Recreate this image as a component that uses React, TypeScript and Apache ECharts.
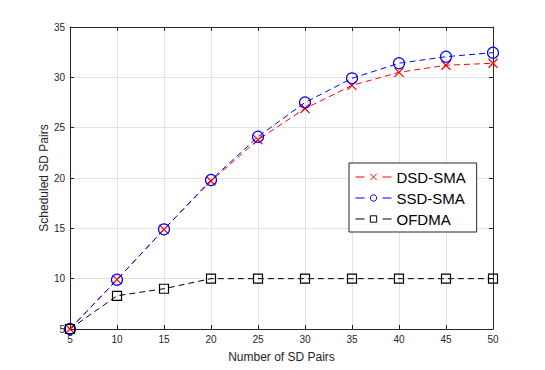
import React, { useEffect, useRef } from "react";
import * as echarts from "echarts";

const xValues = [5, 10, 15, 20, 25, 30, 35, 40, 45, 50];
const dsdSma = [5, 9.9, 14.9, 19.7, 23.8, 26.9, 29.2, 30.5, 31.2, 31.4];
const ssdSma = [5, 9.9, 14.9, 19.8, 24.1, 27.5, 29.9, 31.4, 32.05, 32.45];
const ofdma = [5, 8.3, 9.0, 10, 10, 10, 10, 10, 10, 10];
const seriesNames = ["DSD-SMA", "SSD-SMA", "OFDMA"];

const FONT = "'Liberation Sans', Arial, Helvetica, sans-serif";
const AXIS = "#262626";
const GRID = "#e3e3e3";

const crossPath = "path://M0,0 L10,10 M10,0 L0,10";
const squarePath = "path://M0,0 L10,0 L10,10 L0,10 Z";

function pairs(ys: number[]) {
  return xValues.map((x, i) => [x, ys[i]]);
}

export default function App() {
  const ref = useRef<HTMLDivElement>(null);
  useEffect(() => {
    document.body.style.margin = "0";
    if (!ref.current) return;
    const chart = echarts.init(ref.current, undefined, { renderer: "svg" });
    const mkSeries = (name: string, ys: number[], color: string, symbol: string, size: number) => ({
      name,
      type: "line",
      data: pairs(ys),
      symbol,
      symbolSize: size,
      showAllSymbol: true,
      lineStyle: { color, width: 1, type: [6, 4] },
      itemStyle: { color: "transparent", borderColor: color, borderWidth: 1.2 },
      emphasis: { disabled: true },
    });
    const baseAxis = {
      type: "value" as const,
      interval: 5,
      axisLine: { show: true, lineStyle: { color: AXIS, width: 1 } },
      axisTick: { show: true, inside: true, length: 4, lineStyle: { color: AXIS } },
    };
    chart.setOption({
      animation: false,
      grid: { left: 70, right: 52, top: 27, bottom: 41, containLabel: false },
      xAxis: [
        {
          ...baseAxis,
          min: 5,
          max: 50,
          position: "bottom",
          name: "Number of SD Pairs",
          nameLocation: "middle",
          nameGap: 22,
          nameMoveOverlap: false,
          nameTextStyle: { fontFamily: FONT, fontSize: 12, color: AXIS },
          axisLabel: { fontFamily: FONT, fontSize: 10, color: AXIS, margin: 5 },
          splitLine: { show: true, lineStyle: { color: GRID, width: 1 } },
        },
        {
          ...baseAxis,
          min: 5,
          max: 50,
          position: "top",
          axisLabel: { show: false },
          splitLine: { show: false },
        },
      ],
      yAxis: [
        {
          ...baseAxis,
          min: 5,
          max: 35,
          position: "left",
          name: "Scheduled SD Pairs",
          nameLocation: "middle",
          nameGap: 20,
          nameMoveOverlap: false,
          nameTextStyle: { fontFamily: FONT, fontSize: 12, color: AXIS },
          axisLabel: { fontFamily: FONT, fontSize: 10, color: AXIS, margin: 5 },
          splitLine: { show: true, lineStyle: { color: GRID, width: 1 } },
        },
        {
          ...baseAxis,
          min: 5,
          max: 35,
          position: "right",
          axisLabel: { show: false },
          splitLine: { show: false },
        },
      ],
      legend: {
        orient: "vertical",
        left: 349,
        top: 163,
        padding: [5, 11, 4, 6],
        itemGap: 3,
        itemWidth: 36,
        itemHeight: 8,
        backgroundColor: "#ffffff",
        borderColor: AXIS,
        borderWidth: 1,
        borderRadius: 0,
        textStyle: { fontFamily: FONT, fontSize: 15, color: "#000", lineHeight: 18 },
        lineStyle: { width: 1, type: [9, 18] },
        itemStyle: { borderWidth: 1 },
        data: seriesNames,
      },
      series: [
        mkSeries(seriesNames[0], dsdSma, "#ff0000", crossPath, 9),
        mkSeries(seriesNames[1], ssdSma, "#0000ff", "circle", 11),
        mkSeries(seriesNames[2], ofdma, "#000000", squarePath, 9),
      ],
    });
    return () => chart.dispose();
  }, []);
  return <div ref={ref} style={{ width: 545, height: 370 }} />;
}
